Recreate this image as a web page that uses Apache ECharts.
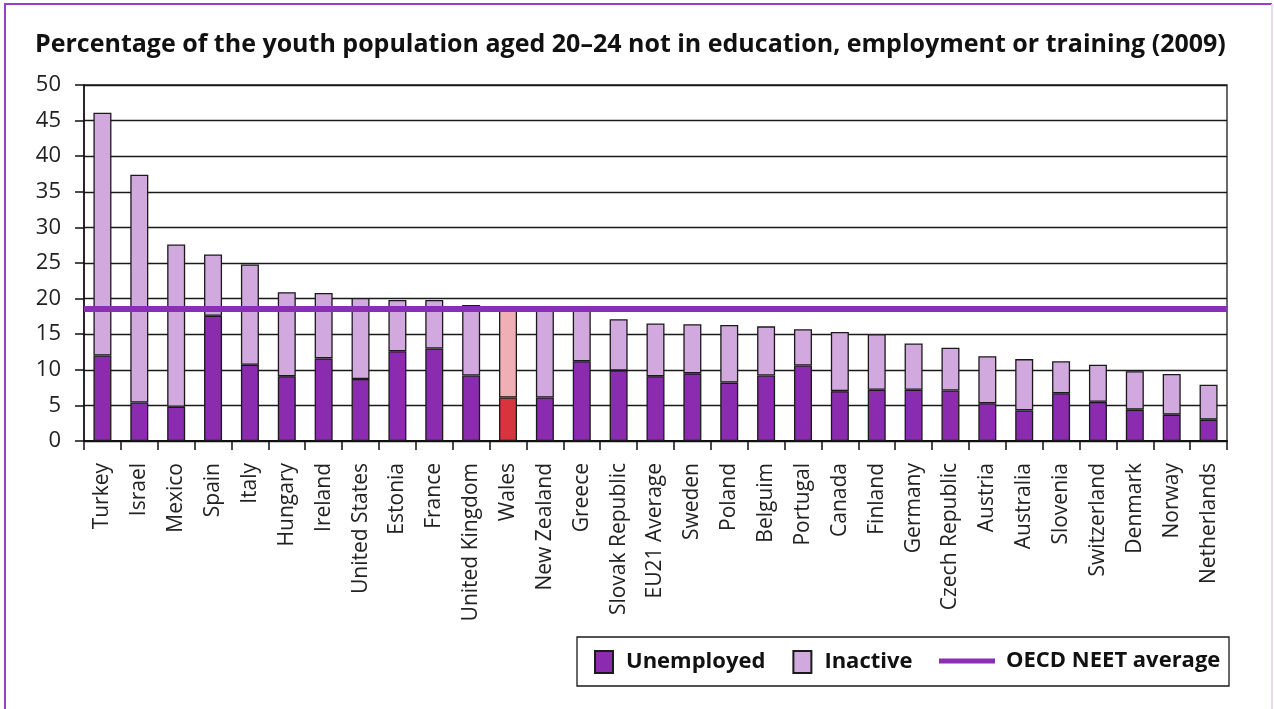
<!DOCTYPE html>
<html>
<head>
<meta charset="utf-8">
<script src="https://cdn.jsdelivr.net/npm/echarts@6/dist/echarts.min.js"></script>
<style>
html,body{margin:0;padding:0;background:#fff;}
#chart{width:1274px;height:709px;}
</style>
</head>
<body>
<div id="chart"></div>
<script>
const categories = ['Turkey','Israel','Mexico','Spain','Italy','Hungary','Ireland','United States','Estonia','France','United Kingdom','Wales','New Zealand','Greece','Slovak Republic','EU21 Average','Sweden','Poland','Belguim','Portugal','Canada','Finland','Germany','Czech Republic','Austria','Australia','Slovenia','Switzerland','Denmark','Norway','Netherlands'];
const unemployed = [12.0,5.4,4.8,17.6,10.7,9.1,11.6,8.7,12.6,13.0,9.2,6.1,6.1,11.2,9.9,9.1,9.5,8.2,9.2,10.6,7.0,7.2,7.2,7.1,5.3,4.3,6.7,5.5,4.4,3.7,3.0];
const inactive = [34.1,32.0,22.8,8.6,14.1,11.8,9.2,11.4,7.2,6.8,9.9,12.5,12.4,7.1,7.2,7.4,6.9,8.1,6.9,5.1,8.3,7.8,6.5,6.0,6.6,7.2,4.5,5.2,5.4,5.7,4.9];
const oecdAverage = 18.55;
const highlightCategory = 'Wales';
const yTicks = {min: 0, max: 50, interval: 5};

const C_UNEMP = '#8a2bb0', C_INACT = '#d2a9de', C_LINE = '#8b2db5';
const C_HUNEMP = '#d7343f', C_HINACT = '#efafb4';
const FONT = '"Open Sans", "Noto Sans", sans-serif';

function mk(values, normal, hi) {
  return values.map((v, i) => categories[i] === highlightCategory ? {value: v, itemStyle: {color: hi}} : v);
}

const chart = echarts.init(document.getElementById('chart'), null, {renderer: 'canvas'});
chart.setOption({
  animation: false,
  backgroundColor: '#fff',
  title: {
    text: 'Percentage of the youth population aged 20–24 not in education, employment or training (2009)',
    left: 30, top: 27,
    textStyle: {fontFamily: FONT, fontWeight: 'bold', fontSize: 25, color: '#111'}
  },
  grid: {left: 84, right: 47, top: 85, bottom: 268, show: true, borderColor: '#1a1a1a', borderWidth: 1.3, outerBoundsMode: 'none'},
  legend: [{
    data: [{name: 'Unemployed', icon: 'rect'}, {name: 'Inactive', icon: 'rect'}],
    left: 589, top: 645, itemWidth: 18, itemHeight: 22, itemGap: 27,
    textStyle: {fontFamily: FONT, fontWeight: 'bold', fontSize: 22, color: '#111', padding: [0, 0, 0, 8]}
  }, {
    data: [{name: 'OECD NEET average', icon: 'rect'}],
    left: 934, top: 645, itemWidth: 56, itemHeight: 5,
    textStyle: {fontFamily: FONT, fontWeight: 'bold', fontSize: 22, color: '#111', padding: [0, 0, 0, 6]}
  }],
  graphic: [
    {type: 'rect', shape: {x: 577, y: 637, width: 652, height: 49}, style: {fill: 'none', stroke: '#1a1a1a', lineWidth: 1.3}, silent: true},
    {type: 'line', shape: {x1: 5, y1: 4, x2: 5, y2: 709}, style: {stroke: '#9b3fc6', lineWidth: 2}, silent: true},
    {type: 'line', shape: {x1: 4, y1: 4, x2: 1272, y2: 4}, style: {stroke: '#9b3fc6', lineWidth: 2}, silent: true},
    {type: 'line', shape: {x1: 1272, y1: 4, x2: 1272, y2: 709}, style: {stroke: '#e6dbef', lineWidth: 2}, silent: true}
  ],
  xAxis: {
    type: 'category', data: categories, boundaryGap: true,
    axisLine: {lineStyle: {color: '#111', width: 2}},
    axisTick: {show: true, length: 9, alignWithLabel: false, interval: 0, lineStyle: {color: '#111', width: 1.5}},
    axisLabel: {interval: 0, rotate: 90, margin: 22, fontFamily: FONT, fontSize: 21, color: '#222'}
  },
  yAxis: {
    type: 'value', min: yTicks.min, max: yTicks.max, interval: yTicks.interval,
    axisLine: {show: true, lineStyle: {color: '#111', width: 1.5}},
    axisTick: {show: true, length: 9, lineStyle: {color: '#111', width: 1.5}},
    axisLabel: {margin: 23, fontFamily: FONT, fontSize: 22, color: '#222'},
    splitLine: {show: true, lineStyle: {color: '#1a1a1a', width: 1.3}}
  },
  series: [
    {name: 'Unemployed', type: 'bar', stack: 'neet', barWidth: 18, data: mk(unemployed, C_UNEMP, C_HUNEMP),
      itemStyle: {color: C_UNEMP, borderColor: '#1a1a1a', borderWidth: 1.3}},
    {name: 'Inactive', type: 'bar', stack: 'neet', barWidth: 18, data: mk(inactive, C_INACT, C_HINACT),
      itemStyle: {color: C_INACT, borderColor: '#1a1a1a', borderWidth: 1.3}},
    {name: 'OECD NEET average', type: 'line', data: [], itemStyle: {color: C_LINE}, lineStyle: {color: C_LINE},
      markLine: {silent: true, symbol: 'none', label: {show: false}, lineStyle: {color: C_LINE, width: 6, type: 'solid'},
        data: [{yAxis: oecdAverage}]}}
  ]
});
</script>
</body>
</html>
